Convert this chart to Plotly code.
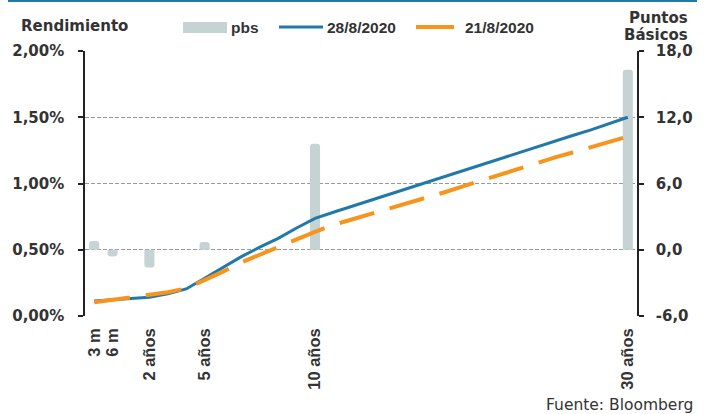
import plotly.graph_objects as go

# Curve sampled at 30 maturity points (index 0 = 3 m ... index 29 = 30 años)
tick_pos = [0, 1, 3, 6, 12, 29]
tick_labels = ["3 m", "6 m", "2 años", "5 años", "10 años", "30 años"]

# Right-axis ticks (basis points)
pbs_ticks = [-6, 0, 6, 12, 18]
pbs_tick_labels = ["-6,0", "0,0", "6,0", "12,0", "18,0"]

# Weekly change in basis points at the labelled maturities
pbs = [0.8, -0.6, -1.6, 0.7, 9.6, 16.3]

# Yield curve, % (28/8/2020)
curve_28 = [0.113, 0.123, 0.131, 0.141, 0.168, 0.204, 0.285, 0.365, 0.448, 0.52,
            0.586, 0.664, 0.737, 0.783, 0.828, 0.873, 0.918, 0.962, 1.006, 1.05,
            1.094, 1.138, 1.185, 1.23, 1.274, 1.318, 1.362, 1.405, 1.45, 1.50]

# Yield curve, % (21/8/2020)
curve_21 = [0.103, 0.123, 0.138, 0.156, 0.179, 0.209, 0.268, 0.335, 0.405, 0.46,
            0.516, 0.578, 0.635, 0.688, 0.728, 0.768, 0.81, 0.85, 0.89, 0.932,
            0.977, 1.022, 1.064, 1.108, 1.15, 1.195, 1.234, 1.272, 1.313, 1.355]

idx = list(range(len(curve_28)))

W, H = 705, 414
ML, MR, MT, MB = 85, 68, 51, 98
PW, PH = W - ML - MR, H - MT - MB

def xp(px):
    return (px - ML) / PW

def yp(py):
    return (H - MB - py) / PH

TXT = "#333333"
BAR = "#C5D3D4"
BLUE = "#2079A9"
ORANGE = "#F7941D"
BOLD = "DejaVu Sans"
ARIAL = "Liberation Sans, Arial, sans-serif"

fig = go.Figure()
fig.add_bar(x=tick_pos, y=pbs, yaxis="y", width=0.55, name="pbs",
            marker=dict(color=BAR, line_width=0, cornerradius=3))
fig.add_scatter(x=idx, y=curve_28, yaxis="y2", mode="lines", name="28/8/2020",
                line=dict(color=BLUE, width=3))
fig.add_scatter(x=idx, y=curve_21, yaxis="y2", mode="lines", name="21/8/2020",
                line=dict(color=ORANGE, width=4, dash="36px,16px"))

axis_font = dict(family=BOLD, size=15, color=TXT, weight="bold")

fig.update_layout(
    width=W, height=H,
    margin=dict(l=ML, r=MR, t=MT, b=MB, pad=0),
    paper_bgcolor="white", plot_bgcolor="white",
    separators=",.",
    showlegend=False,
    xaxis=dict(range=[-0.5, 29.5], tickmode="array", tickvals=tick_pos,
               ticktext=tick_labels, tickangle=-90, showgrid=False,
               zeroline=False, showline=False, ticks="",
               ticklabelstandoff=8,
               tickfont=dict(family=ARIAL, size=16.5, color=TXT, weight="bold")),
    yaxis=dict(range=[-6, 18], tickmode="array", tickvals=pbs_ticks,
               ticktext=pbs_tick_labels, side="right",
               showgrid=True, gridcolor="#9A9A9A", griddash="4px,2px", gridwidth=1,
               zeroline=False, showline=True, linecolor="#222222", linewidth=1.5,
               ticks="outside", ticklen=5, tickcolor="#222222", tickwidth=1.5,
               ticklabelstandoff=9, tickfont=axis_font),
    yaxis2=dict(range=[0, 2], dtick=0.5, tick0=0, tickformat=".2f", ticksuffix="%",
                side="left", overlaying="y", anchor="x", showgrid=False,
                zeroline=False, showline=True, linecolor="#222222", linewidth=1.5,
                ticks="outside", ticklen=5, tickcolor="#222222", tickwidth=1.5,
                ticklabelstandoff=11, tickfont=axis_font),
)

shapes = [
    # top rule
    dict(type="line", xref="paper", yref="paper", x0=xp(8), x1=xp(697),
         y0=yp(1), y1=yp(1), line=dict(color=BLUE, width=2)),
    # legend swatches
    dict(type="rect", xref="paper", yref="paper", x0=xp(183), x1=xp(227),
         y0=yp(33), y1=yp(22), fillcolor=BAR, line_width=0),
    dict(type="line", xref="paper", yref="paper", x0=xp(279), x1=xp(323),
         y0=yp(27), y1=yp(27), line=dict(color=BLUE, width=3)),
    dict(type="line", xref="paper", yref="paper", x0=xp(416), x1=xp(454),
         y0=yp(27), y1=yp(27), line=dict(color=ORANGE, width=4)),
]
fig.update_layout(shapes=shapes)

def note(text, x, y, xanchor, family, size, weight="bold"):
    fig.add_annotation(text=text, xref="paper", yref="paper", x=xp(x), y=yp(y),
                       xanchor=xanchor, yanchor="middle", showarrow=False,
                       font=dict(family=family, size=size, color=TXT, weight=weight))

note("Rendimiento", 19, 26, "left", BOLD, 15)
note("pbs", 229, 27, "left", ARIAL, 15.5)
note("28/8/2020", 325, 27, "left", ARIAL, 15.5)
note("21/8/2020", 463, 27, "left", ARIAL, 15.5)
note("Puntos", 690, 18, "right", BOLD, 15)
note("Básicos", 690, 35, "right", BOLD, 15)
note("Fuente: Bloomberg", 695, 405, "right", "DejaVu Sans", 15.5, weight="normal")

fig.write_html("out.html")
